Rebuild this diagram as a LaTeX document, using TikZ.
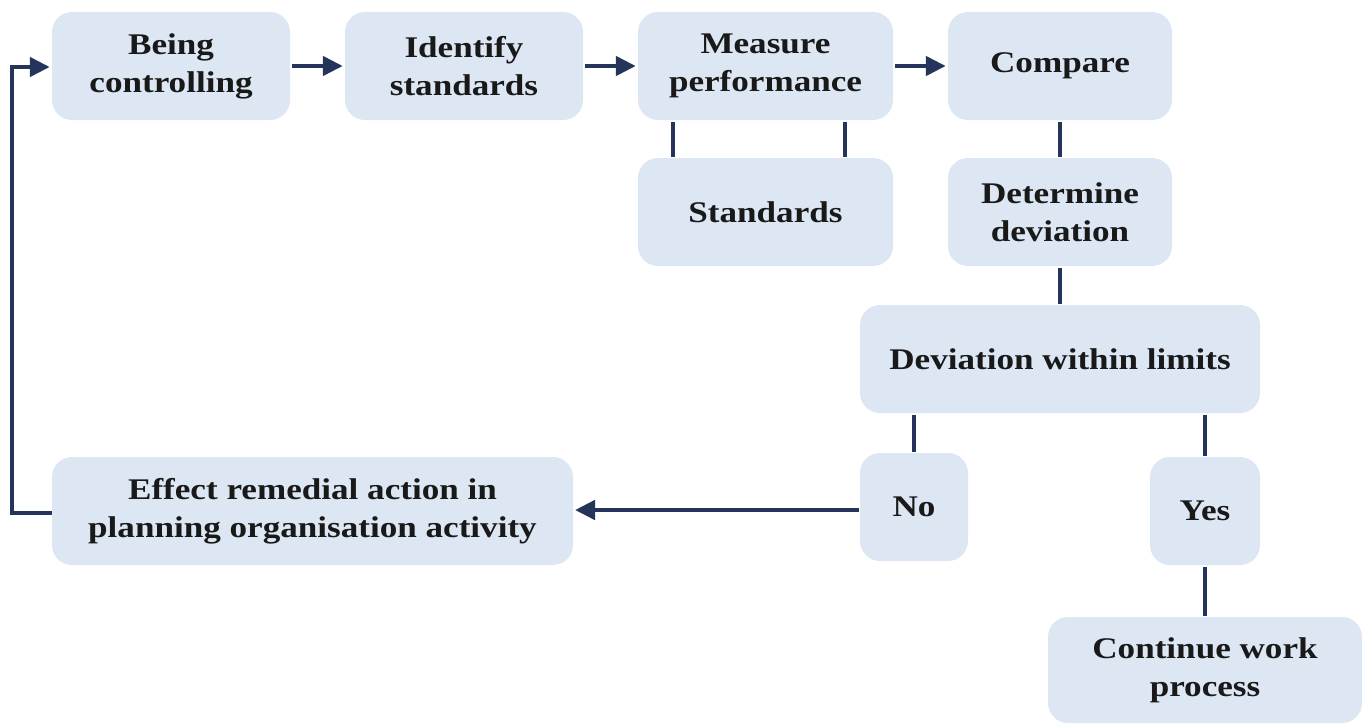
\documentclass[tikz,border=0pt]{standalone}
\usepackage{fontspec}
\setmainfont{Liberation Serif}[FakeStretch=1.17]
\usetikzlibrary{arrows.meta}
\definecolor{boxfill}{RGB}{220,231,243}
\definecolor{navy}{RGB}{37,52,90}
\begin{document}
\begin{tikzpicture}[x=1pt,y=-1pt,
  box/.style={draw=none, fill=boxfill, rounded corners=20pt, align=center,
    inner sep=0pt, font=\fontsize{30}{38}\selectfont\bfseries, text=black!90},
  conn/.style={draw=navy, line width=4.5pt},
  arr/.style={conn, -{Triangle[length=20pt,width=19pt]}}]
\useasboundingbox (0,0) rectangle (1362,723);
\node[box, minimum width=238pt, minimum height=108pt] (being) at (171,66) {Being\\controlling};
\node[box, minimum width=238pt, minimum height=108pt] (ident) at (464,66) {Identify\\standards};
\node[box, minimum width=255pt, minimum height=108pt] (meas) at (765.5,66) {Measure\\performance};
\node[box, minimum width=224pt, minimum height=108pt] (comp) at (1060,66) {Compare};
\node[box, minimum width=255pt, minimum height=108pt] (stand) at (765.5,212) {Standards};
\node[box, minimum width=224pt, minimum height=108pt] (det) at (1060,212) {Determine\\deviation};
\node[box, minimum width=400pt, minimum height=108pt] (dwl) at (1060,359) {Deviation within limits};
\node[box, minimum width=108pt, minimum height=108pt] (no) at (914,507) {No};
\node[box, minimum width=110pt, minimum height=108pt] (yes) at (1205,511) {Yes};
\node[box, minimum width=314pt, minimum height=106pt] (cont) at (1205,670) {Continue work\\process};
\node[box, minimum width=521pt, minimum height=108pt] (eff) at (312.5,511) {Effect remedial action in\\planning organisation activity};
\coordinate (lb) at (12,513);
\coordinate (lt) at (12,67);
\coordinate (noout) at (859,510);
\coordinate (effin) at (575,510);
% top arrows
\draw[arr] ([xshift=2pt]being.east) -- ([xshift=-2pt]ident.west);
\draw[arr] ([xshift=2pt]ident.east) -- ([xshift=-2pt]meas.west);
\draw[arr] ([xshift=2pt]meas.east) -- ([xshift=-2pt]comp.west);
% measure - standards
\draw[conn] ([xshift=-92.5pt,yshift=-2pt]meas.south) -- ([xshift=-92.5pt,yshift=1pt]stand.north);
\draw[conn] ([xshift=79.5pt,yshift=-2pt]meas.south) -- ([xshift=79.5pt,yshift=1pt]stand.north);
% compare chain
\draw[conn] ([yshift=-2pt]comp.south) -- ([yshift=1pt]det.north);
\draw[conn] ([yshift=-2pt]det.south) -- ([yshift=1pt]dwl.north);
\draw[conn] (dwl.south -| no) ++(0,2) -- ([yshift=1pt]no.north);
\draw[conn] (dwl.south -| yes) ++(0,2) -- ([yshift=1pt]yes.north);
\draw[conn] ([yshift=-2pt]yes.south) -- ([yshift=1pt]cont.north);
% no -> effect
\draw[arr] (noout) -- (effin);
% loop back
\draw[conn] (eff.west |- lb) -- (lb) -- (lt);
\draw[arr] ([xshift=-2.25pt]lt) -- ([xshift=-2pt]being.west |- lt);
\end{tikzpicture}
\end{document}
